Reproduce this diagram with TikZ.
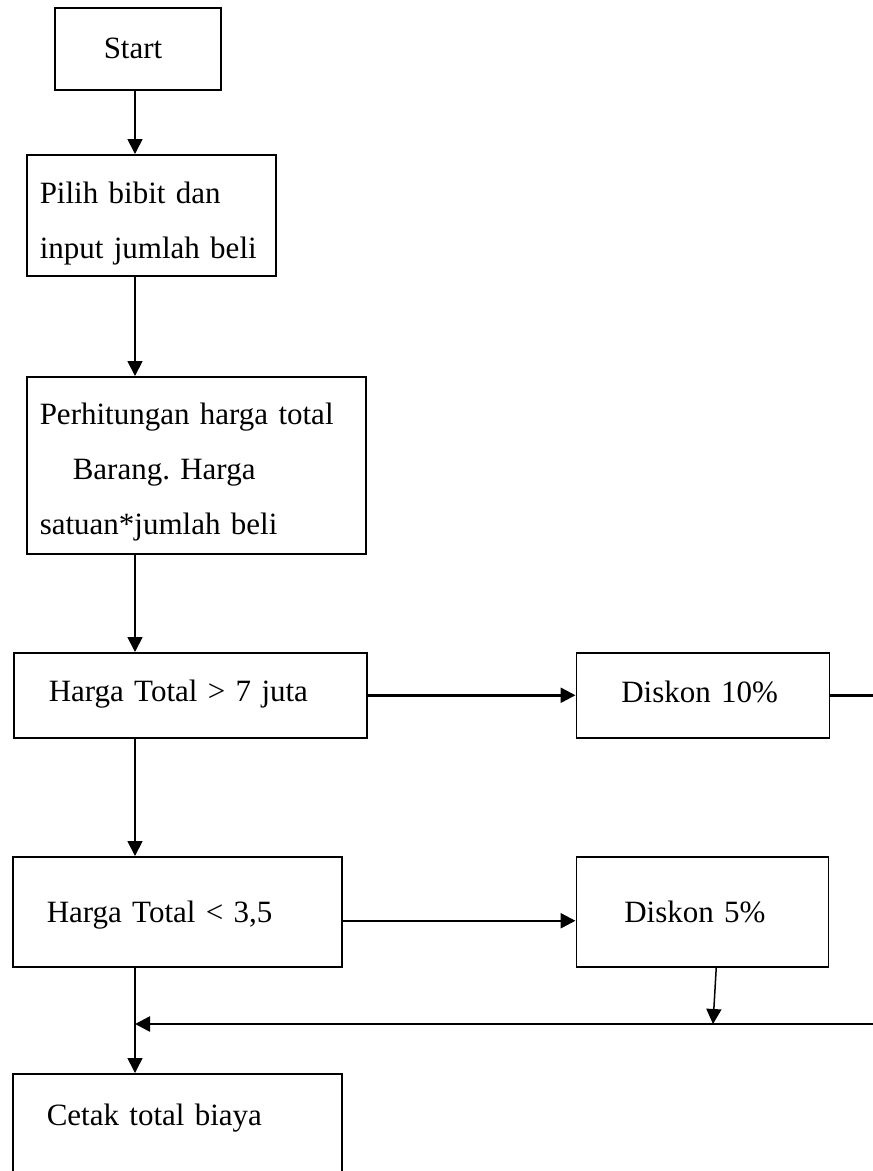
\documentclass[tikz,border=0pt]{standalone}
\usepackage{fontspec}
\setmainfont{Liberation Serif}
\usetikzlibrary{positioning, arrows.meta}
\DeclareRobustCommand\hurufkotak{\fontsize{31}{55}\selectfont\frenchspacing\spaceskip=7.75pt\relax}

\begin{document}
\begin{tikzpicture}[x=1pt, y=-1pt,
    proses/.style={draw, line width=1.5pt, anchor=north west, align=left, inner ysep=0pt,
        font=\hurufkotak},
    panah/.style={-{Triangle[length=15pt, width=15pt]}, line width=1.8pt}]
    \useasboundingbox[fill=white] (0,0) rectangle (873,1171);
    \clip (0,0) rectangle (873,1171);
    \coordinate (spine) at (135,0);
    \coordinate (tepi) at (873,0);
    \coordinate (titik) at (713,1024);

    \node[proses, inner xsep=49pt, text width=68pt, text height=51pt, text depth=31pt] (start) at (54,7) {Start};
    \node[proses, inner xsep=13pt, text width=223pt, text height=49pt, text depth=72pt] (pilih) at (26,154)
        {Pilih bibit dan\\input jumlah beli};
    \node[proses, inner xsep=13pt, text width=313pt, text height=48pt, text depth=129pt] (hitung) at (26,376)
        {Perhitungan harga total\\\hspace*{33pt}Barang. Harga\\satuan*jumlah beli};
    \node[proses, inner xsep=35pt, text width=283pt, text height=49pt, text depth=36pt] (lebih7) at (13,652)
        {Harga Total > 7 juta};
    \node[proses, right=208pt of lebih7, inner xsep=45pt, text width=163pt, text height=50pt, text depth=35pt] (diskon10)
        {Diskon 10\%};
    \node[proses, inner xsep=34pt, text width=261pt, text height=66pt, text depth=44pt] (kurang35) at (12,856)
        {Harga Total < 3,5};
    \node[proses, right=233pt of kurang35, inner xsep=48pt, text width=156pt, text height=66pt, text depth=44pt] (diskon5)
        {Diskon 5\%};
    \node[proses, inner xsep=34pt, text width=261pt, text height=52pt, text depth=65pt] (cetak) at (12,1073)
        {Cetak total biaya};

    \draw[panah] (spine |- start.south) -- (spine |- pilih.north);
    \draw[panah] (spine |- pilih.south) -- (spine |- hitung.north);
    \draw[panah] (spine |- hitung.south) -- (spine |- lebih7.north);
    \draw[panah] (spine |- lebih7.south) -- (spine |- kurang35.north);
    \draw[panah, line width=1.5pt] (spine |- kurang35.south) -- (spine |- cetak.north);
    \draw[panah, line width=2.5pt] (lebih7.east) -- (diskon10.west);
    \draw[line width=2.5pt] (diskon10.east) -- (tepi |- diskon10.east);
    \draw[panah, line width=2.5pt] ([yshift=-9pt]kurang35.east) -- ([yshift=-9pt]diskon5.west);
    \draw[panah, line width=1.5pt] ([xshift=14pt]diskon5.south) -- (titik);
    \draw[panah, line width=2.5pt] (tepi |- titik) -- (spine |- titik);
\end{tikzpicture}
\end{document}
